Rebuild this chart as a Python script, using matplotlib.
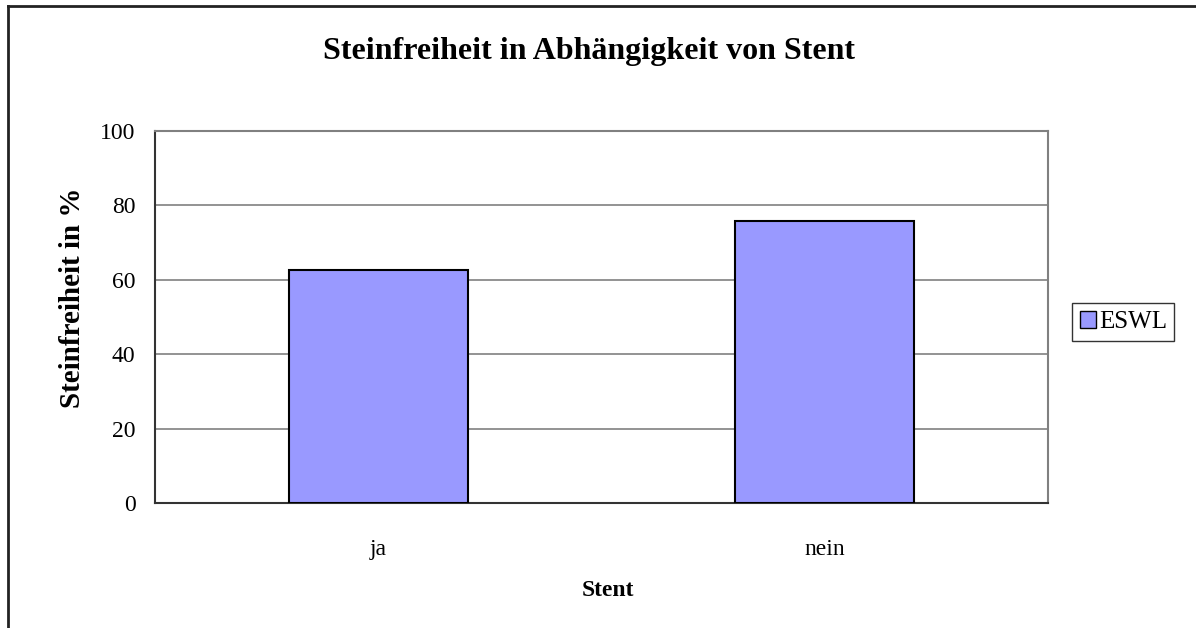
import matplotlib
matplotlib.use("Agg")
import matplotlib.pyplot as plt
from matplotlib.lines import Line2D

categories = ["ja", "nein"]
values = [62.7, 75.7]
series_name = "ESWL"
yticks = [0, 20, 40, 60, 80, 100]

plt.rcParams['font.family'] = ['Liberation Serif', 'DejaVu Serif']

W, H = 1196, 628
fig = plt.figure(figsize=(W / 100, H / 100), dpi=100)
L, R, T, B = 155, 1048, 131, 503
ax = fig.add_axes([L / W, 1 - B / H, (R - L) / W, (B - T) / H])

x = list(range(len(categories)))
ax.bar(x, values, width=0.4, color="#9999FF", edgecolor="black", linewidth=1.5,
       label=series_name, zorder=3)
ax.set_xlim(-0.5, len(categories) - 0.5)
ax.set_ylim(0, 100)
ax.set_yticks(yticks)
ax.set_yticklabels([str(t) for t in yticks], fontsize=17)
ax.set_xticks(x)
ax.set_xticklabels(categories, fontsize=17)
ax.tick_params(axis='both', length=0)
ax.tick_params(axis='y', pad=14)
ax.tick_params(axis='x', pad=26)
ax.yaxis.grid(True, color="#808080", linewidth=1.2, zorder=0)
ax.set_axisbelow(True)
for s in ["top", "right"]:
    ax.spines[s].set_color("#808080")
    ax.spines[s].set_linewidth(1.5)
for s in ["left", "bottom"]:
    ax.spines[s].set_color("#333333")
    ax.spines[s].set_linewidth(1.5)

fig.text(72 / W, 1 - 298 / H, "Steinfreiheit in %", rotation=90, ha="center", va="center",
         fontsize=21, fontweight="bold")
fig.text(608 / W, 1 - 591 / H, "Stent", ha="center", va="center",
         fontsize=17, fontweight="bold")
fig.text(589 / W, 1 - 51 / H, "Steinfreiheit in Abhängigkeit von Stent", ha="center",
         va="center", fontsize=23, fontweight="bold")

leg = fig.legend(loc="center left", bbox_to_anchor=(1072 / W, 1 - 322 / H), fontsize=18,
                 frameon=True, fancybox=False, edgecolor="black", handlelength=0.65,
                 handleheight=0.65, handletextpad=0.12, borderpad=0.3, borderaxespad=0)
leg.get_frame().set_linewidth(1.0)
for h in leg.legend_handles:
    h.set_linewidth(1.0)

# outer chart frame (left and top edges)
fig.add_artist(Line2D([8 / W, 8 / W], [0, 1 - 6 / H], transform=fig.transFigure,
                      color="#222222", linewidth=2))
fig.add_artist(Line2D([8 / W, 1], [1 - 6 / H, 1 - 6 / H], transform=fig.transFigure,
                      color="#222222", linewidth=2))

fig.savefig("out.png", dpi=100)
